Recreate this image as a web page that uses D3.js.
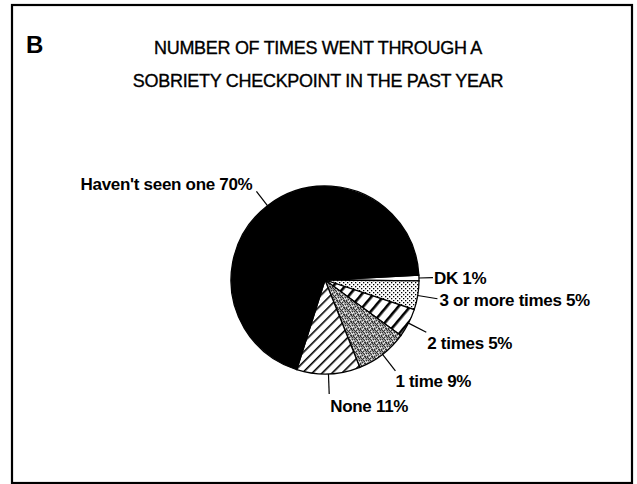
<!DOCTYPE html>
<html lang="en">
  <head>
    <meta charset="UTF-8">
    <script src="https://cdn.jsdelivr.net/npm/d3@7"></script>
    <title>Sobriety checkpoint pie</title>
    <style>body { margin: 0; background: #fff; }</style>
  </head>
  <body>
    <script>
      let w = 637;
      let h = 484;

      // data
      let categories = ["DK", "3 or more times", "2 times", "1 time", "None", "Haven't seen one"];
      let values = [1, 5, 5, 9, 11, 70];
      let titleLines = ["NUMBER OF TIMES WENT THROUGH A", "SOBRIETY CHECKPOINT IN THE PAST YEAR"];
      let panelLetter = "B";

      // look of each slice, same order as categories
      let fills = ["#fff", "url(#dots)", "url(#bars)", "url(#grain)", "url(#hatch)", "#000"];
      // leader length out of the rim, then where the label sits from its end
      let leaders = [
        {len: 14, dx: 1, dy: 0, anchor: "start"},
        {len: 20, dx: 2, dy: 1, anchor: "start"},
        {len: 20, dx: 1, dy: 11, anchor: "start"},
        {len: 21, dx: 0, dy: 10, anchor: "start"},
        {len: 20, dx: 1, dy: 12, anchor: "start"},
        {len: 18, dx: -4, dy: -8, anchor: "end"}
      ];

      let cx = 325, cy = 280, r = 94;
      let start = 87 * Math.PI / 180;

      let svg = d3.select("body")
                  .append("svg")
                  .attr("width", w)
                  .attr("height", h);

      // patterns
      let defs = svg.append("defs");

      let dots = defs.append("pattern")
          .attr("id", "dots")
          .attr("patternUnits", "userSpaceOnUse")
          .attr("width", 4).attr("height", 4);
      dots.append("rect").attr("width", 4).attr("height", 4).attr("fill", "#fff");
      dots.append("rect").attr("x", 0).attr("y", 0).attr("width", 1.3).attr("height", 1.3).attr("fill", "#000");
      dots.append("rect").attr("x", 2).attr("y", 2).attr("width", 1.3).attr("height", 1.3).attr("fill", "#000");

      let bars = defs.append("pattern")
          .attr("id", "bars")
          .attr("patternUnits", "userSpaceOnUse")
          .attr("width", 9).attr("height", 9)
          .attr("patternTransform", "rotate(40)");
      bars.append("rect").attr("width", 9).attr("height", 9).attr("fill", "#fff");
      bars.append("rect").attr("x", 0).attr("width", 2.6).attr("height", 9).attr("fill", "#000");

      let hatch = defs.append("pattern")
          .attr("id", "hatch")
          .attr("patternUnits", "userSpaceOnUse")
          .attr("width", 7).attr("height", 7)
          .attr("patternTransform", "rotate(45)");
      hatch.append("rect").attr("width", 7).attr("height", 7).attr("fill", "#fff");
      hatch.append("rect").attr("x", 0).attr("width", 1.6).attr("height", 7).attr("fill", "#000");

      // grey speckle, fixed tile
      let grain = defs.append("pattern")
          .attr("id", "grain")
          .attr("patternUnits", "userSpaceOnUse")
          .attr("width", 7).attr("height", 7);
      grain.append("rect").attr("width", 7).attr("height", 7).attr("fill", "#9c9c9c");
      [[0,0],[3,1],[5,0],[1,3],[4,4],[6,3],[2,5],[5,6],[0,6],[3,3],[6,1],[1,1],[4,6],[2,2]].forEach(p => {
        grain.append("rect").attr("x", p[0]).attr("y", p[1])
             .attr("width", 1).attr("height", 1).attr("fill", "#333");
      });
      [[4,2],[0,4],[5,4],[2,0],[3,6],[6,5]].forEach(p => {
        grain.append("rect").attr("x", p[0]).attr("y", p[1])
             .attr("width", 1).attr("height", 1).attr("fill", "#eee");
      });

      // frame
      svg.append("rect")
         .attr("x", 12).attr("y", 5)
         .attr("width", 620).attr("height", 478)
         .attr("fill", "none")
         .attr("stroke", "#000")
         .attr("stroke-width", 2.2);

      svg.append("text")
         .attr("x", 26).attr("y", 53)
         .attr("font-family", "Liberation Sans, Arial, sans-serif")
         .attr("font-weight", "bold")
         .attr("font-size", 24)
         .text(panelLetter);

      svg.selectAll("text.title")
         .data(titleLines)
         .enter()
         .append("text")
         .attr("class", "title")
         .attr("x", 318)
         .attr("y", (d, i) => 54 + i * 33)
         .attr("text-anchor", "middle")
         .attr("font-family", "Liberation Sans, Arial, sans-serif")
         .attr("font-size", 18)
         .attr("letter-spacing", -0.3)
         .attr("fill", "#000")
         .attr("stroke", "#000")
         .attr("stroke-width", 0.35)
         .text(d => d);

      // pie
      let pie = d3.pie()
                  .sort(null)
                  .startAngle(start)
                  .endAngle(start + 2 * Math.PI);
      let arc = d3.arc().innerRadius(0).outerRadius(r);
      let arcs = pie(values);

      let g = svg.append("g").attr("transform", `translate(${cx},${cy})`);

      g.selectAll("path")
       .data(arcs)
       .enter()
       .append("path")
       .attr("d", arc)
       .attr("fill", (d, i) => fills[i])
       .attr("stroke", "#000")
       .attr("stroke-width", 1.3);

      let rim = (a, rad) => [Math.sin(a) * rad, -Math.cos(a) * rad];

      g.selectAll("line.leader")
       .data(arcs)
       .enter()
       .append("line")
       .attr("class", "leader")
       .attr("x1", d => rim((d.startAngle + d.endAngle) / 2, r)[0])
       .attr("y1", d => rim((d.startAngle + d.endAngle) / 2, r)[1])
       .attr("x2", (d, i) => rim((d.startAngle + d.endAngle) / 2, r + leaders[i].len)[0])
       .attr("y2", (d, i) => rim((d.startAngle + d.endAngle) / 2, r + leaders[i].len)[1])
       .attr("stroke", "#000")
       .attr("stroke-width", 1.2);

      g.selectAll("text.label")
       .data(arcs)
       .enter()
       .append("text")
       .attr("class", "label")
       .attr("x", (d, i) => rim((d.startAngle + d.endAngle) / 2, r + leaders[i].len)[0] + leaders[i].dx)
       .attr("y", (d, i) => rim((d.startAngle + d.endAngle) / 2, r + leaders[i].len)[1] + leaders[i].dy)
       .attr("dy", "0.36em")
       .attr("text-anchor", (d, i) => leaders[i].anchor)
       .attr("font-family", "Liberation Sans, Arial, sans-serif")
       .attr("font-weight", "bold")
       .attr("font-size", 17)
       .attr("letter-spacing", -0.3)
       .attr("fill", "#000")
       .text((d, i) => categories[i] + " " + values[i] + "%");
    </script>
  </body>
</html>
